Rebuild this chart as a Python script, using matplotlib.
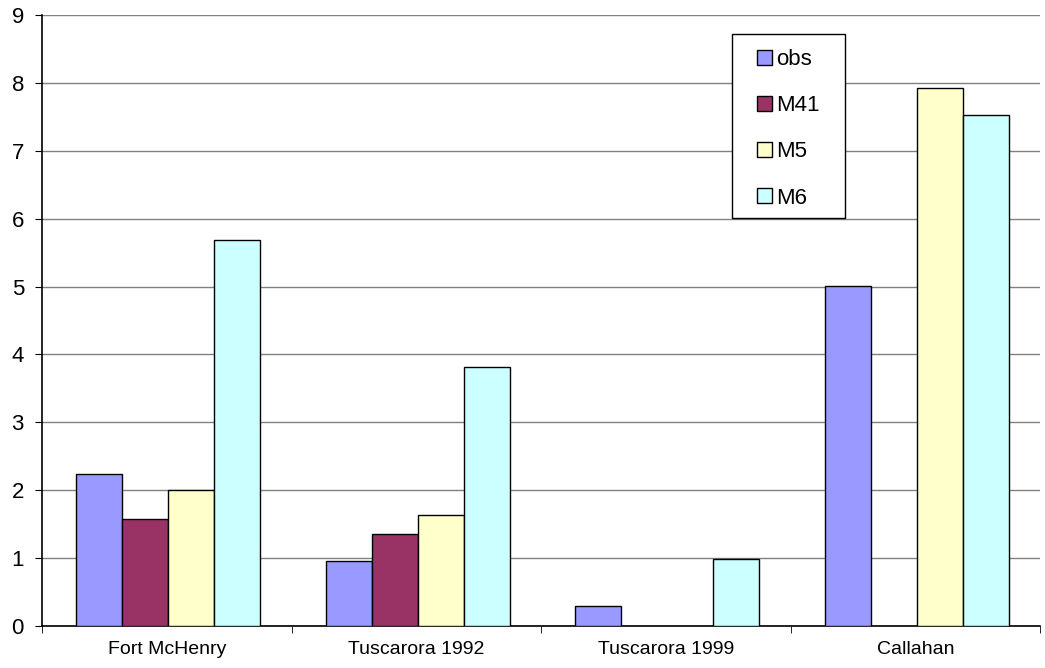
import numpy as np
import matplotlib
matplotlib.use("Agg")
import matplotlib.pyplot as plt
from matplotlib.patches import Rectangle

plt.rcParams['font.family'] = ['Liberation Sans', 'DejaVu Sans']

# データ
categories = ["Fort McHenry", "Tuscarora 1992", "Tuscarora 1999", "Callahan"]
series_names = ["obs", "M41", "M5", "M6"]
obs = [2.24, 0.96, 0.29, 5.01]
m41 = [1.58, 1.35, 0.0, 0.0]
m5 = [2.01, 1.64, 0.0, 7.93]
m6 = [5.68, 3.81, 0.99, 7.53]
colors = ["#9999FF", "#993366", "#FFFFCC", "#CCFFFF"]

fig = plt.figure(figsize=(10.45, 6.68), dpi=100)
ax = fig.add_axes([42 / 1045, 1 - 626 / 668, 998 / 1045, 611 / 668])

x = np.arange(len(categories))
w = 0.184
values = [obs, m41, m5, m6]
for i, (name, vals, c) in enumerate(zip(series_names, values, colors)):
    # 値0の棒は描かない
    h = np.where(np.array(vals) == 0, np.nan, vals)
    ax.bar(x + (i - 1.5) * w + 0.006, h, w, color=c, edgecolor="black",
           linewidth=1.0, label=name, zorder=3)

ax.set_xlim(-0.5, len(categories) - 0.5)
ax.set_ylim(0, 9)
ax.set_yticks(range(10))
ax.yaxis.grid(True, color="#808080", linewidth=1.0, zorder=0)
ax.set_xticks(x)
ax.set_xticklabels(categories, fontsize=14)
ax.set_xticks(np.arange(-0.5, len(categories), 1), minor=True)
ax.tick_params(axis="x", which="major", length=0, pad=11)
ax.tick_params(axis="x", which="minor", length=5, direction="out")
ax.tick_params(axis="y", length=5, direction="out", labelsize=16, pad=8)
for s in ["top", "right"]:
    ax.spines[s].set_visible(False)
ax.spines["left"].set_linewidth(1.2)
ax.spines["bottom"].set_linewidth(1.2)

# 凡例の枠（Excel風）
box = Rectangle((0.6914, 0.6678), 0.1132, 0.3012, transform=ax.transAxes,
                facecolor="white", edgecolor="black", linewidth=1.0, zorder=4)
ax.add_patch(box)
leg = ax.legend(loc="upper left", bbox_to_anchor=(0.7164, 0.944), fontsize=16,
                frameon=False, labelspacing=1.13, handlelength=0.68,
                handleheight=0.68, handletextpad=0.2, borderpad=0,
                borderaxespad=0)
leg.set_zorder(5)

fig.savefig("out.png", dpi=100, facecolor="white")
